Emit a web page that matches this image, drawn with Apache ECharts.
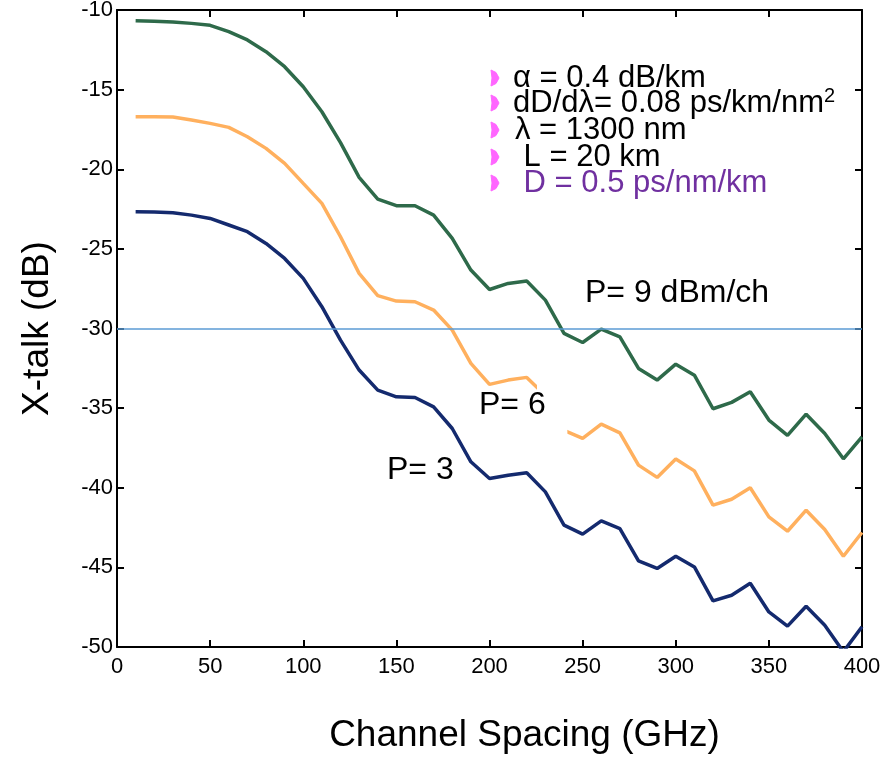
<!DOCTYPE html>
<html>
<head>
<meta charset="utf-8">
<script src="https://cdn.jsdelivr.net/npm/echarts@6/dist/echarts.min.js"></script>
<style>
  html, body { margin: 0; padding: 0; background: #fff; }
  #main { width: 893px; height: 757px; }
</style>
</head>
<body>
<div id="main"></div>
<script>
// 数据
var spacing = [10, 20, 30, 40, 50, 60, 70, 80, 90, 100, 110, 120, 130, 140, 150, 160, 170, 180, 190, 200,
  210, 220, 230, 240, 250, 260, 270, 280, 290, 300, 310, 320, 330, 340, 350, 360, 370, 380, 390, 400];
var p9 = [-10.67, -10.7, -10.75, -10.84, -10.96, -11.36, -11.88, -12.62, -13.56, -14.82, -16.39, -18.33, -20.51, -21.87, -22.29, -22.29, -22.88, -24.34, -26.33, -27.55,
  -27.17, -27.02, -28.22, -30.31, -30.88, -30.04, -30.52, -32.51, -33.24, -32.24, -32.93, -35.04, -34.64, -33.97, -35.75, -36.71, -35.38, -36.59, -38.18, -36.8];
var p6 = [-16.7, -16.7, -16.72, -16.91, -17.12, -17.37, -17.96, -18.69, -19.63, -20.89, -22.14, -24.24, -26.54, -27.94, -28.28, -28.32, -28.84, -30.1, -32.19, -33.51,
  -33.24, -33.07, -34.2, -36.4, -36.9, -36.0, -36.55, -38.58, -39.35, -38.2, -38.94, -41.09, -40.72, -40.0, -41.83, -42.73, -41.41, -42.62, -44.3, -42.81];
var p3 = [-22.67, -22.68, -22.73, -22.88, -23.09, -23.5, -23.92, -24.66, -25.6, -26.85, -28.63, -30.73, -32.61, -33.87, -34.29, -34.33, -34.92, -36.28, -38.37, -39.42,
  -39.21, -39.06, -40.26, -42.35, -42.91, -42.08, -42.56, -44.59, -45.07, -44.3, -44.97, -47.1, -46.75, -46.0, -47.8, -48.69, -47.44, -48.63, -50.3, -48.73];
var threshold = -30;
// 参数说明
var paramLines = ['α = 0.4 dB/km', 'dD/dλ= 0.08 ps/km/nm', 'λ = 1300 nm', ' L = 20 km', ' D = 0.5 ps/nm/km'];

var font = 'Liberation Sans, Arial, sans-serif';

function pairs(ys) {
  var out = [];
  for (var i = 0; i < spacing.length; i++) {
    out.push([spacing[i], ys[i]]);
  }
  return out;
}

var chart = echarts.init(document.getElementById('main'));

var axisCommon = {
  axisLine: { show: true, onZero: false, lineStyle: { color: '#000', width: 2 } },
  axisTick: { show: true, inside: true, length: 7, lineStyle: { color: '#000', width: 2 } },
  splitLine: { show: false }
};

var option = {
  backgroundColor: '#fff',
  animation: false,
  grid: { left: 117, right: 31, top: 10, bottom: 110, containLabel: false, outerBoundsMode: 'none' },
  xAxis: [
    Object.assign({
      type: 'value', min: 0, max: 400, interval: 50, position: 'bottom',
      name: 'Channel Spacing (GHz)', nameLocation: 'middle', nameGap: 70,
      nameTextStyle: { fontFamily: font, fontSize: 37, color: '#000', padding: [0, 0, 0, 70] },
      axisLabel: { fontFamily: font, fontSize: 22, color: '#000', margin: 9 }
    }, axisCommon),
    Object.assign({
      type: 'value', min: 0, max: 400, interval: 50, position: 'top',
      axisLabel: { show: false }
    }, axisCommon)
  ],
  yAxis: [
    Object.assign({
      type: 'value', min: -50, max: -10, interval: 5, position: 'left',
      name: 'X-talk (dB)', nameLocation: 'middle', nameGap: 61,
      nameTextStyle: { fontFamily: font, fontSize: 37, color: '#000' },
      axisLabel: { fontFamily: font, fontSize: 22, color: '#000', margin: 4 }
    }, axisCommon),
    Object.assign({
      type: 'value', min: -50, max: -10, interval: 5, position: 'right',
      axisLabel: { show: false }
    }, axisCommon)
  ],
  series: [
    {
      name: 'P=9', type: 'line', data: pairs(p9), showSymbol: false, clip: true,
      lineStyle: { color: '#2e6a4a', width: 3.5 }, z: 3,
      markLine: {
        silent: true, symbol: 'none', label: { show: false },
        lineStyle: { color: '#5b9bd5', width: 1.5, type: 'solid' },
        data: [{ yAxis: threshold }]
      }
    },
    {
      name: 'P=6', type: 'line', data: pairs(p6), showSymbol: false, clip: true,
      lineStyle: { color: '#ffb05e', width: 3.5 }, z: 3
    },
    {
      name: 'P=3', type: 'line', data: pairs(p3), showSymbol: false, clip: true,
      lineStyle: { color: '#142a6e', width: 3.5 }, z: 3
    }
  ]
};
chart.setOption(option);

// 注释文字和白色遮挡块
var graphics = [];
var gapTL = chart.convertToPixel({ xAxisIndex: 0, yAxisIndex: 0 }, [225.5, -33.3]);
var gapBR = chart.convertToPixel({ xAxisIndex: 0, yAxisIndex: 0 }, [241.8, -37.0]);
graphics.push({
  type: 'rect', z: 10, silent: true,
  shape: { x: gapTL[0], y: gapTL[1], width: gapBR[0] - gapTL[0], height: gapBR[1] - gapTL[1] },
  style: { fill: '#fff' }
});

var lineY = [78, 103, 130, 157, 183];
var lineX = [513, 513, 515, 515, 515];
for (var i = 0; i < paramLines.length; i++) {
  var cy = lineY[i];
  graphics.push({
    type: 'polygon', z: 20, silent: true,
    shape: { points: [[491, cy - 8], [496, cy - 5.5], [499, cy], [496, cy + 5.5], [491, cy + 8], [492, cy]] },
    style: { fill: '#ff66ff', stroke: '#ff66ff', lineWidth: 1 }
  });
  graphics.push({
    type: 'text', z: 20, silent: true,
    x: lineX[i], y: cy,
    style: {
      text: i === 1 ? paramLines[i] + '{sup|2}' : paramLines[i],
      fontFamily: font, fontSize: 31,
      fill: i === 4 ? '#7030a0' : '#000',
      verticalAlign: 'middle', align: 'left',
      rich: { sup: { fontFamily: font, fontSize: 20, verticalAlign: 'top', padding: [0, 0, 14, 0], fill: '#000' } }
    }
  });
}

var curveLabels = [
  { text: 'P= 9 dBm/ch', x: 585, y: 293 },
  { text: 'P= 6', x: 479, y: 405 },
  { text: 'P= 3', x: 387, y: 470 }
];
curveLabels.forEach(function (lb) {
  graphics.push({
    type: 'text', z: 20, silent: true, x: lb.x, y: lb.y,
    style: { text: lb.text, fontFamily: font, fontSize: 32, fill: '#000', verticalAlign: 'middle', align: 'left' }
  });
});

chart.setOption({ graphic: graphics });
</script>
</body>
</html>
